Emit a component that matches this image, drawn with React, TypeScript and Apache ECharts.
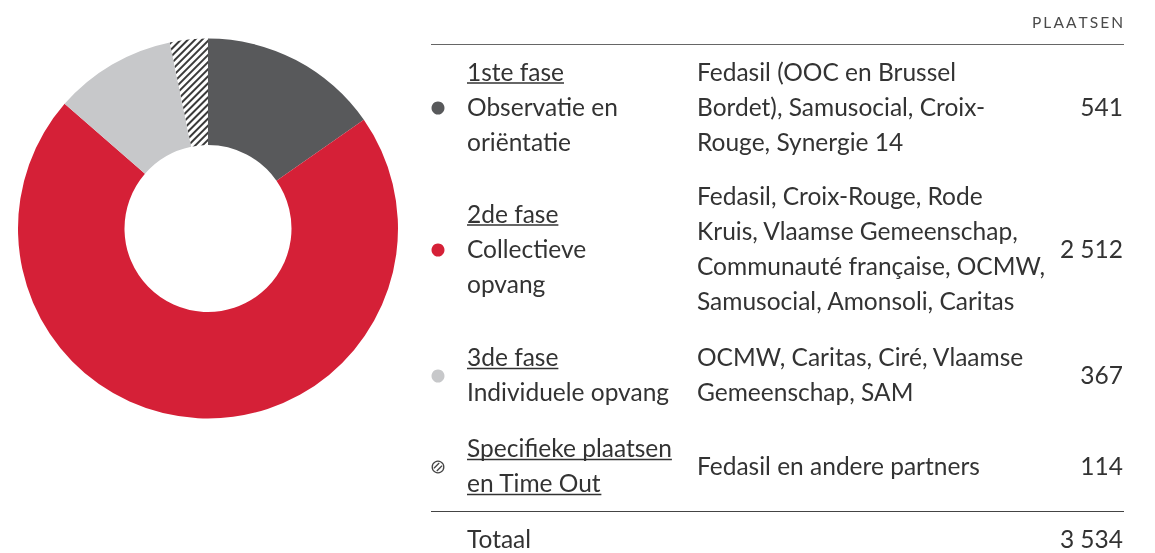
import React, { useEffect, useRef } from "react";
import * as echarts from "echarts";

const headings: string[][] = [["1ste fase"], ["2de fase"], ["3de fase"], ["Specifieke plaatsen", "en Time Out"]];
const descriptions: string[][] = [["Observatie en", "oriëntatie"], ["Collectieve", "opvang"], ["Individuele opvang"], []];
const partners: string[][] = [
  ["Fedasil (OOC en Brussel", "Bordet), Samusocial, Croix-", "Rouge, Synergie 14"],
  ["Fedasil, Croix-Rouge, Rode", "Kruis, Vlaamse Gemeenschap,", "Communauté française, OCMW,", "Samusocial, Amonsoli, Caritas"],
  ["OCMW, Caritas, Ciré, Vlaamse", "Gemeenschap, SAM"],
  ["Fedasil en andere partners"],
];
const values: number[] = [541, 2512, 367, 114];
const colors: string[] = ["#58595b", "#d52037", "#c7c8ca", "hatch"];
const columnTitle = "PLAATSEN";
const totalLabel = "Totaal";

const FONT_FAMILY = "Lato, 'Noto Sans', sans-serif";
const FS = 24.5;
const TEXT = "#333333";

function fmt(n: number): string {
  return String(n).replace(/\B(?=(\d{3})+(?!\d))/g, " ");
}

export default function App() {
  const ref = useRef<HTMLDivElement>(null);
  useEffect(() => {
    if (!ref.current) return;
    const chart = echarts.init(ref.current, null, { renderer: "svg" });
    const ctx = document.createElement("canvas").getContext("2d")!;
    const font = `${FS}px ${FONT_FAMILY}`;
    const rowCenters = [106, 248, 374, 465];
    const lh = 35;
    const c1 = 467, c2 = 697, c3 = 1123, bx = 438;
    const g: any[] = [];

    // spaced column title
    const tFont = `15.5px ${FONT_FAMILY}`;
    ctx.font = tFont;
    const chars = columnTitle.split("");
    const cw = chars.map((ch) => ctx.measureText(ch).width);
    const targetW = 91;
    const sp = (targetW - cw.reduce((a, b) => a + b, 0)) / (chars.length - 1);
    let tx = c3 - targetW;
    chars.forEach((ch, k) => {
      g.push({ type: "text", style: { text: ch, x: tx, y: 22, font: tFont, fill: "#4a4a4a", textAlign: "left", textVerticalAlign: "middle" } });
      tx += cw[k] + sp;
    });

    ctx.font = font;
    g.push({ type: "line", shape: { x1: 431, y1: 44.5, x2: 1124, y2: 44.5 }, style: { stroke: "#666", lineWidth: 1.2 } });
    g.push({ type: "line", shape: { x1: 431, y1: 511.5, x2: 1124, y2: 511.5 }, style: { stroke: "#444", lineWidth: 1.2 } });
    values.forEach((v, i) => {
      const cy = rowCenters[i];
      const bcy = cy + 2;
      const col1 = [...headings[i], ...descriptions[i]];
      col1.forEach((t, j) => {
        const y = cy + (j - (col1.length - 1) / 2) * lh;
        g.push({ type: "text", style: { text: t, x: c1, y, font, fill: TEXT, textAlign: "left", textVerticalAlign: "middle" } });
        if (j < headings[i].length) {
          const w = ctx.measureText(t).width;
          g.push({ type: "line", shape: { x1: c1, y1: y + 12, x2: c1 + w, y2: y + 12 }, style: { stroke: TEXT, lineWidth: 1.5 } });
        }
      });
      partners[i].forEach((t, j) => {
        const y = cy + (j - (partners[i].length - 1) / 2) * lh;
        g.push({ type: "text", style: { text: t, x: c2, y, font, fill: TEXT, textAlign: "left", textVerticalAlign: "middle" } });
      });
      g.push({ type: "text", style: { text: fmt(v), x: c3, y: cy, font, fill: TEXT, textAlign: "right", textVerticalAlign: "middle" } });
      if (colors[i] !== "hatch") {
        g.push({ type: "circle", shape: { cx: bx, cy: bcy, r: 6.5 }, style: { fill: colors[i] } });
      } else {
        g.push({ type: "circle", shape: { cx: bx, cy: bcy, r: 5.8 }, style: { fill: "#fff", stroke: "#444", lineWidth: 1.3 } });
        g.push({ type: "line", shape: { x1: bx - 4, y1: bcy + 1.2, x2: bx + 1.2, y2: bcy - 4 }, style: { stroke: "#444", lineWidth: 1.3 } });
        g.push({ type: "line", shape: { x1: bx - 1.2, y1: bcy + 4, x2: bx + 4, y2: bcy - 1.2 }, style: { stroke: "#444", lineWidth: 1.3 } });
      }
    });
    const total = values.reduce((a, b) => a + b, 0);
    g.push({ type: "text", style: { text: totalLabel, x: c1, y: 538, font, fill: TEXT, textAlign: "left", textVerticalAlign: "middle" } });
    g.push({ type: "text", style: { text: fmt(total), x: c3, y: 538, font, fill: TEXT, textAlign: "right", textVerticalAlign: "middle" } });

    chart.setOption({
      animation: false,
      series: [
        {
          type: "pie",
          center: [208, 228.5],
          radius: [83.5, 190],
          startAngle: 90,
          clockwise: true,
          label: { show: false },
          labelLine: { show: false },
          emphasis: { disabled: true },
          data: values.map((v, i) => ({
            value: v,
            name: headings[i].join(" "),
            itemStyle:
              colors[i] === "hatch"
                ? {
                    color: "#ffffff",
                    decal: {
                      symbol: "rect",
                      symbolSize: 1,
                      color: "#3a3a3a",
                      backgroundColor: "#ffffff",
                      dashArrayX: [1, 0],
                      dashArrayY: [1.4, 2.6],
                      rotation: -Math.PI / 4,
                    },
                  }
                : { color: colors[i] },
          })),
        },
      ],
      graphic: g,
    });
    return () => chart.dispose();
  }, []);
  return <div ref={ref} style={{ position: "fixed", left: 0, top: 0, width: 1155, height: 553 }} />;
}
